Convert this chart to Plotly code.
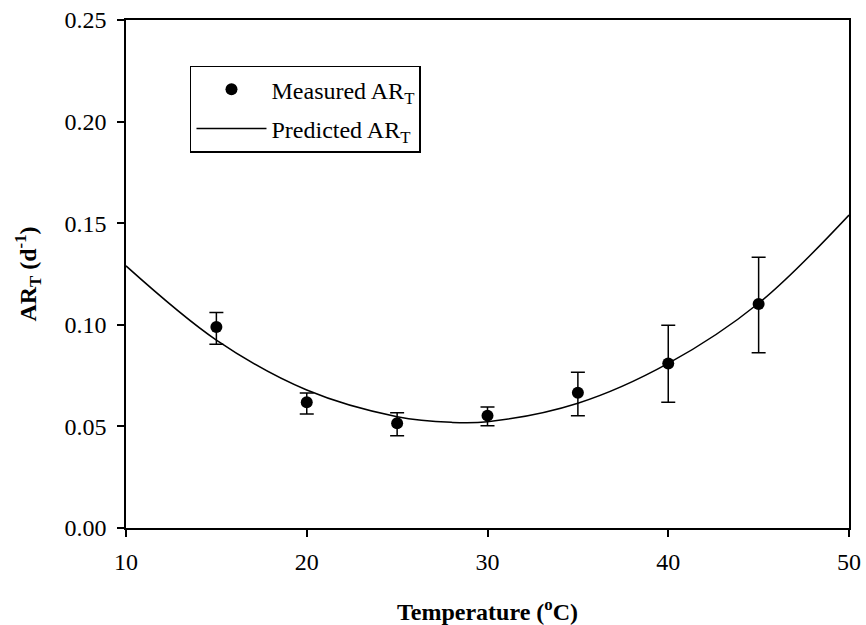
import plotly.graph_objects as go

# Measured data
temp_meas = [15, 20, 25, 30, 35, 40, 45]
ar_meas = [0.0989, 0.0619, 0.0515, 0.0553, 0.0666, 0.0810, 0.1102]
err_plus = [0.0071, 0.0045, 0.0052, 0.0042, 0.0100, 0.0188, 0.0230]
err_minus = [0.0085, 0.0058, 0.0061, 0.0050, 0.0113, 0.0191, 0.0239]

# Predicted curve
temp_pred = [10, 15, 20, 25, 28, 30, 35, 40, 45, 50]
ar_pred = [0.129, 0.0925, 0.0679, 0.0548, 0.0520, 0.0523, 0.0614, 0.0810, 0.1106, 0.154]

x_ticks = [10, 20, 30, 40, 50]
y_ticks = [0.00, 0.05, 0.10, 0.15, 0.20, 0.25]

FONT = "Liberation Serif, Times New Roman, serif"
FS = 24

fig = go.Figure()
fig.add_trace(go.Scatter(
    x=temp_meas, y=ar_meas, mode="markers",
    name="Measured AR<sub>T</sub>", legendgroup="a",
    marker=dict(color="black", size=12),
    error_y=dict(type="data", array=err_plus, arrayminus=err_minus,
                 symmetric=False, color="black", thickness=1.5, width=7),
))
fig.add_trace(go.Scatter(
    x=temp_pred, y=ar_pred, mode="lines",
    name="Predicted AR<sub>T</sub>", legendgroup="b",
    line=dict(color="black", width=1.5, shape="spline", smoothing=1.0),
))

axis_common = dict(
    showline=True, linecolor="black", linewidth=1.5, mirror=True,
    ticks="outside", ticklen=7, tickcolor="black", tickwidth=1.5,
    showgrid=False, zeroline=False, automargin=False,
    tickfont=dict(family=FONT, size=FS, color="black"),
)

fig.update_layout(
    width=866, height=625,
    margin=dict(l=126, r=17, t=20, b=97),
    plot_bgcolor="white", paper_bgcolor="white",
    font=dict(family=FONT, size=FS, color="black"),
    xaxis=dict(range=[10, 50], tickvals=x_ticks, ticktext=[str(v) for v in x_ticks],
               ticklabelstandoff=4,
               title=dict(text="<b>Temperature (<sup>o</sup>C)</b>", font=dict(family=FONT, size=FS), standoff=30),
               **axis_common),
    yaxis=dict(range=[0, 0.25], tickvals=y_ticks, ticktext=[f"{v:.2f}" for v in y_ticks],
               ticklabelstandoff=6,
               title=dict(text="<b>AR<sub>T</sub> (d<sup>-1</sup>)</b>", font=dict(family=FONT, size=FS), standoff=21),
               **axis_common),
    legend=dict(x=0.0885, y=0.91, xanchor="left", yanchor="top",
                bordercolor="black", borderwidth=1.5, bgcolor="white",
                font=dict(family=FONT, size=FS),
                tracegroupgap=5, traceorder="grouped",
                itemwidth=70, entrywidth=152),
)

fig.write_html("out.html")
